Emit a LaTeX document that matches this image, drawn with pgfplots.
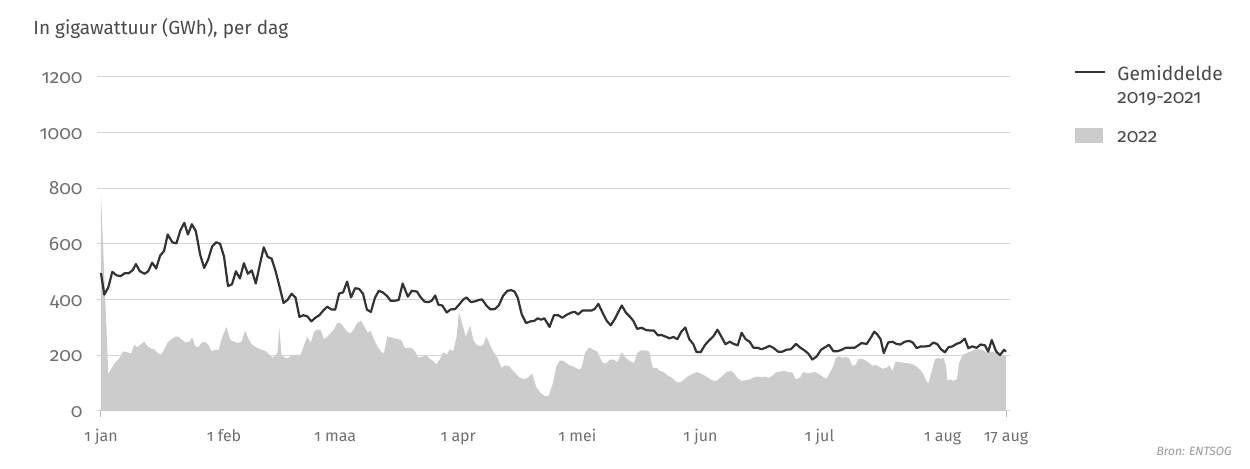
\documentclass[border=0pt]{standalone}
\usepackage{pgfplots}
\pgfplotsset{compat=1.18}
\usepackage{fontspec}
\setmainfont{Fira Sans}[Numbers=OldStyle]
\definecolor{linec}{HTML}{333333}
\definecolor{areac}{HTML}{CCCCCC}
\definecolor{gridc}{HTML}{D4D4D4}
\definecolor{tickc}{HTML}{707070}
\definecolor{titlec}{HTML}{4A4A4A}
\begin{document}
\begin{tikzpicture}
\path[use as bounding box] (0,0) rectangle (625bp,234.5bp);
\node[anchor=base west, inner sep=0pt, text=titlec, font=\fontsize{9.5bp}{11bp}\selectfont] at (16.5bp,217bp) {In gigawattuur (GWh), per dag};
\node[anchor=base east, inner sep=0pt, text=black!40, font=\fontsize{6bp}{7bp}\selectfont\itshape] at (616bp,7bp) {Bron: ENTSOG};
% legend
\draw[linec, line width=1bp] (537.5bp,198.5bp) -- (552.5bp,198.5bp);
\node[anchor=base west, inner sep=0pt, text=titlec, font=\fontsize{9.6bp}{11bp}\selectfont] at (558.5bp,194.2bp) {Gemiddelde};
\node[anchor=base west, inner sep=0pt, text=titlec, font=\fontsize{9.6bp}{11bp}\selectfont] at (558.5bp,182.7bp) {2019-2021};
\fill[areac] (537.5bp,162.9bp) rectangle (551.6bp,170.6bp);
\node[anchor=base west, inner sep=0pt, text=titlec, font=\fontsize{9.6bp}{11bp}\selectfont] at (558.5bp,163.4bp) {2022};
\begin{axis}[
  at={(48.5bp,29bp)}, anchor=south west,
  scale only axis, width=456.5bp, height=167bp,
  xmin=-1, xmax=229, ymin=0, ymax=1200,
  axis line style={draw=none},
  ytick={0,200,...,1200},
  ymajorgrids, grid style={gridc, line width=0.5bp},
  major tick length=0pt,
  xtick pos=bottom,
  xtick={0,31,59,90,120,151,181,212,228},
  xticklabels={1 jan,1 feb,1 maa,1 apr,1 mei,1 jun,1 jul,1 aug,17 aug},
  extra x ticks={0,228}, extra x tick labels={},
  extra x tick style={major tick length=3bp, tick align=outside, grid=none, tick style={draw=black!30, line width=0.5bp}},
  /pgf/number format/assume math mode=true,
  /pgf/number format/1000 sep={},
  tick label style={text=tickc, inner sep=0pt},
  yticklabel style={anchor=base east, xshift=-7bp, yshift=-3.3bp, font=\fontsize{9.6bp}{10bp}\selectfont},
  xticklabel style={anchor=base, yshift=-15.5bp, font=\fontsize{8bp}{9bp}\selectfont},
  clip=false,
]
\addplot[fill=areac, draw=none] coordinates {
(0,780) (1.85,132) (2.5,149) (3.5,173) (4.5,187) (5.6,214) (6.7,211) (7.6,206) (8.4,238) (9.2,229) (9.9,238) (10.9,249) (11.8,232) (12.6,225) (13.4,222) (14.3,208) (15.1,202) (15.9,220) (16.8,246) (17.8,258) (18.8,267) (19.5,267) (20.5,255) (21.3,246) (22.2,249) (23,264) (23.7,234) (24.5,229) (25.4,246) (26.2,248) (27,239) (27.9,214) (28.7,220) (29.6,218) (30.6,267) (31.6,302) (32.6,255) (33.6,249) (34.4,244) (35.4,249) (36.3,288) (37.1,261) (37.9,241) (38.8,232) (39.4,226) (40.5,220) (41.6,214) (42.4,202) (43.3,191) (44.1,202) (44.5,210) (44.9,300) (45.5,202) (46.4,191) (47.2,191) (48,200) (49.3,202) (50.3,202) (51.2,238) (52,267) (52.8,244) (53.7,285) (54.5,293) (55.3,291) (56.2,258) (57,267) (57.8,279) (58.7,293) (59.5,316) (60.3,316) (61.2,300) (62,285) (62.9,279) (63.7,293) (64.5,316) (65.5,324) (66.4,302) (67.2,281) (67.9,288) (68.7,261) (69.6,232) (70.7,211) (71.3,208) (72.1,267) (73,265) (73.8,261) (74.9,258) (75.7,253) (76.6,226) (77.4,228) (78.3,226) (79.1,214) (80,191) (81,196) (81.8,200) (82.6,191) (83.7,179) (84.5,167) (85.4,187) (86.2,211) (87.1,202) (87.9,222) (88.7,214) (89.6,267) (90.2,355) (91,314) (91.9,267) (93,308) (93.8,255) (94.6,238) (95.5,232) (96.3,238) (97.1,267) (98,238) (98.8,214) (99.9,191) (100.9,155) (101.9,164) (103,159) (104.2,138) (105.5,120) (106.6,114) (107.6,120) (108.6,135) (109.7,85) (110.8,65) (111.8,53) (112.8,55) (113.9,102) (114.7,159) (115.6,182) (116.6,179) (117.7,167) (118.8,161) (119.8,153) (120.8,149) (121.3,167) (121.9,208) (123,229) (124,220) (125,214) (125.7,191) (126.5,171) (127.4,173) (128.2,185) (129.2,185) (130.1,175) (131.2,211) (132.2,191) (133.3,179) (134.3,173) (135.1,208) (136,218) (137,218) (138.1,214) (139,155) (140,155) (140.8,144) (141.8,140) (142.7,128) (143.8,120) (144.9,105) (145.9,102) (146.9,114) (148,126) (149.1,134) (150.1,140) (151.1,135) (152.2,126) (153.3,116) (154.3,108) (155.3,110) (156.5,126) (157.6,140) (158.7,144) (159.5,135) (160.5,116) (161.4,108) (162.4,111) (163.5,114) (164.3,120) (165.4,124) (166.4,121) (167.3,124) (168.1,119) (169.1,126) (170,138) (171.1,142) (172.1,144) (173.1,140) (174.2,138) (175,114) (176.1,120) (176.9,140) (178,135) (179,138) (179.9,140) (180.9,132) (181.7,124) (182.8,116) (183.7,140) (184.5,161) (185.1,191) (185.9,196) (186.8,191) (187.6,194) (188.4,191) (189.3,161) (190.1,167) (190.9,187) (191.8,187) (192.6,182) (193.5,173) (194.3,163) (195.3,165) (196.9,152) (197.9,155) (198.6,164) (199.4,144) (200.2,178) (201.3,175) (202.5,173) (203.6,171) (204.6,167) (205.5,159) (206.3,149) (207.2,132) (208,105) (208.5,100) (209.3,144) (210.1,185) (210.7,191) (211.6,187) (212.2,191) (212.9,161) (213.2,108) (213.9,114) (214.7,108) (215.6,114) (216.2,173) (217.1,202) (218.1,208) (219.1,214) (220.2,220) (221.3,222) (222.3,218) (223.3,208) (224.4,214) (225.5,208) (226.5,202) (227.5,199) (228,196)
} \closedcycle;
\addplot[linec, line width=1.1bp, line join=round] coordinates {
(0,496) (0.84,418) (1.85,444) (2.85,500) (3.95,487) (5,485) (6,495) (7,495) (8,506) (8.8,528) (9.8,502) (11,493) (11.9,502) (12.9,533) (13.9,512) (14.9,558) (15.9,575) (16.8,634) (18,606) (19,602) (20,649) (21,676) (21.9,634) (22.9,671) (23.9,646) (25,561) (26,514) (27,544) (28,591) (29,606) (30,601) (31,555) (32,449) (33,455) (34,502) (35,476) (36,531) (37,493) (38,505) (39,458) (40,524) (41,588) (42,554) (43,547) (44,502) (45,446) (46,388) (47,399) (48,421) (49,408) (50,338) (51,344) (52,340) (53,322) (54,335) (55,344) (56,361) (57,375) (58,365) (59,364) (60,422) (61,426) (62,465) (63,408) (64,441) (65,439) (66,422) (67,364) (68,356) (69,406) (70,432) (71,426) (72,414) (73,396) (74,396) (75,399) (76,458) (77.3,411) (78.3,432) (79.6,429) (80.4,411) (81.5,393) (82.5,391) (83.3,396) (84.2,415) (85,382) (86,379) (87.1,354) (88.1,365) (89.2,366) (90.2,382) (91.3,401) (92.1,408) (93.2,391) (94.2,394) (95.2,399) (96,401) (97.1,379) (98.1,365) (99.2,366) (100.2,379) (101.3,414) (102.4,432) (103.4,434) (104.2,429) (105,406) (106,347) (107.1,316) (108.2,322) (109.2,324) (110,333) (110.9,328) (111.7,333) (113,302) (114.1,344) (115.2,344) (116.2,335) (117.5,347) (118.6,354) (119.4,356) (120.2,347) (121.3,361) (122.3,361) (123.6,361) (124.4,367) (125.3,385) (126.4,352) (127.4,324) (128.4,308) (129.5,332) (130.3,355) (131.2,379) (132.2,354) (133.3,338) (134.1,324) (135.1,295) (136.2,299) (137.3,291) (138.3,289) (139.3,289) (140.3,272) (141.2,273) (142.3,267) (143.2,261) (144.2,266) (145.2,258) (146.2,285) (147.2,300) (148.2,258) (149.2,241) (150,212) (151.1,212) (152.2,238) (153.3,255) (154.3,269) (155.3,292) (156.3,267) (157.3,240) (158.4,249) (159.4,241) (160.4,236) (161.4,281) (162.4,258) (163.4,249) (164.4,227) (165.4,227) (166.4,222) (167.4,227) (168.4,234) (169.4,227) (170.6,213) (171.6,213) (172.7,220) (173.8,222) (175.1,241) (176.2,227) (177.2,218) (178.2,206) (179.2,185) (180.3,196) (181.4,220) (182.4,229) (183.4,238) (184.5,215) (185.6,215) (186.6,220) (187.6,227) (188.7,227) (189.8,227) (190.8,236) (191.6,244) (192.9,241) (194,265) (194.8,285) (195.5,276) (196.4,258) (197.2,208) (198.3,246) (199.4,249) (200.4,241) (201.4,239) (202.5,249) (203.6,252) (204.5,246) (205.5,226) (206.5,232) (207.6,232) (208.7,234) (209.7,246) (210.7,240) (211.6,222) (212.6,211) (213.5,229) (214.5,232) (215.5,241) (216.5,246) (217.6,260) (218.5,226) (219.5,232) (220.6,227) (221.6,239) (222.7,236) (223.5,213) (224.4,255) (225.5,214) (226.5,201) (227.5,220) (228,213)
};
\end{axis}
\end{tikzpicture}
\end{document}
